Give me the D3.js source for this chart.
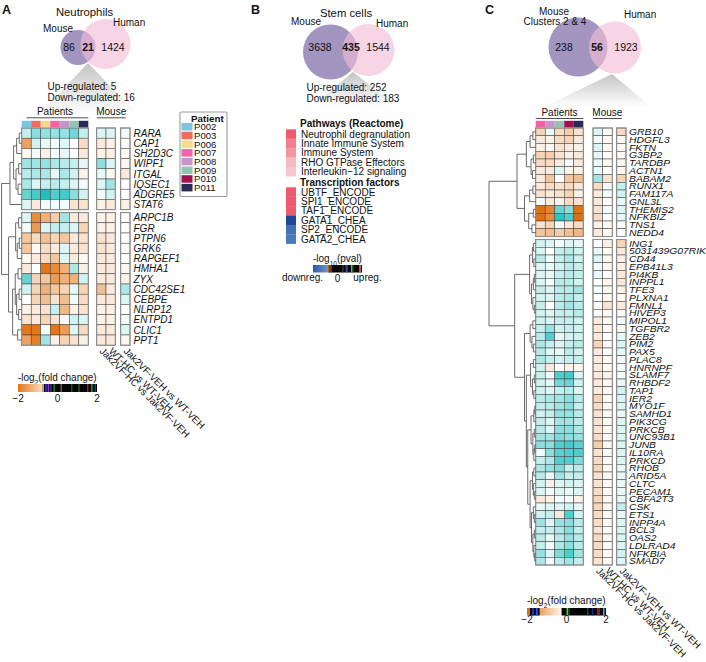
<!DOCTYPE html>
<html>
<head>
<meta charset="utf-8">
<script src="https://cdn.jsdelivr.net/npm/d3@7"></script>
<style>
  body { margin: 0; background: #fff; }
  text { font-family: "Liberation Sans", Arial, Helvetica, sans-serif; fill: #111; }
</style>
</head>
<body>
<svg id="fig" width="706" height="662"></svg>
<script>
// ---------------- data ----------------
const vennA = [86, 21, 1424];
const vennB = [3638, 435, 1544];
const vennC = [238, 56, 1923];
const regA = [5, 16];
const regB = [252, 183];

const allPatients = ["P002", "P003", "P006", "P007", "P008", "P009", "P010", "P011"];
const patientsA = ["P002", "P003", "P006", "P007", "P008", "P009", "P011"];
const patientsC = ["P007", "P008", "P009", "P010", "P011"];
const mouseCols = ["Jak2VF-HC vs Jak2VF-VEH", "WT-HC vs WT-VEH", "Jak2VF-VEH vs WT-VEH"];

const genesA1 = ["RARA", "CAP1", "SH2D3C", "WIPF1", "ITGAL", "IQSEC1", "ADGRE5", "STAT6"];
const genesA2 = ["ARPC1B", "FGR", "PTPN6", "GRK6", "RAPGEF1", "HMHA1", "ZYX", "CDC42SE1",
                 "CEBPE", "NLRP12", "ENTPD1", "CLIC1", "PPT1"];
// -log2 fold change, patients (rows follow genesA1 then genesA2)
const patFcA = [
  [0.5, 1.0, 0.9, 0.9, 0.9, 1.2, 0.5],
  [-1.3, 0.4, 0.2, 0.1, 0.3, 0.0, -0.5],
  [-0.1, 0.1, -0.2, 0.1, 0.2, 0.0, -0.3],
  [0.8, 0.8, 0.9, 0.7, 0.6, 0.5, 0.2],
  [0.6, 0.7, 0.7, 0.2, 0.7, 0.4, -0.2],
  [0.7, 0.3, 0.5, 0.6, 0.5, 0.3, 0.1],
  [1.3, 1.6, 1.9, 1.5, 1.6, 1.0, 0.4],
  [0.3, -0.3, 0.1, 0.1, 0.1, -0.4, -0.4],
  [0.3, -1.6, -1.1, -0.7, 0.8, -0.3, -0.3],
  [0.1, -1.4, 0.3, 0.5, 0.5, 0.3, -0.6],
  [-0.8, -0.5, -0.9, -0.6, -0.8, -0.3, -0.4],
  [-0.8, -0.1, -0.5, -0.3, 0.3, -0.3, -0.4],
  [-0.1, -0.3, -0.5, -0.8, 0.3, -0.3, -0.1],
  [-0.3, 0.0, -1.9, -1.6, -1.1, 0.7, -0.2],
  [1.3, -0.6, -0.8, -1.4, -1.1, -1.1, 0.4],
  [0.4, -0.6, -1.1, -0.8, -0.6, 0.2, -0.6],
  [0.0, -0.6, -0.9, -0.4, -0.9, 0.1, -0.5],
  [-0.2, -0.3, -0.4, 0.5, -1.0, -0.2, -0.4],
  [-0.4, -0.3, -0.6, -0.4, -0.1, 0.4, 0.3],
  [-1.9, -1.9, 0.1, -1.9, -1.4, 0.3, -0.5],
  [-1.3, -1.8, 0.8, -0.2, -0.6, -0.4, -0.2]
];
// mouse comparisons, same row order, columns follow mouseCols
const mouseFcA = [
  [0.3, 0.3, 0.1], [-0.3, -0.2, 0.0], [-0.2, -0.2, -0.1], [1.0, 0.3, -0.1],
  [0.2, -0.1, -0.3], [0.3, 0.8, 0.0], [0.1, 0.4, 0.0], [-0.2, -0.3, -0.2],
  [-0.2, -0.2, 0.0], [-0.2, -0.2, 0.0], [-0.4, -0.3, 0.0], [-0.4, -0.3, -0.1],
  [-0.3, -0.3, 0.0], [-0.3, -0.3, -0.1], [-0.3, -0.3, -0.2], [-0.9, -0.3, 0.7],
  [-0.3, -0.3, 0.3], [-0.2, -0.2, 0.0], [-0.2, -0.2, 0.1], [-0.3, -0.3, 0.3],
  [-0.3, -0.3, -0.1]
];
// dendrogram: [height, left, right]
const treeA = [10,
  [5.8, [4.0, [2.5, [1.2, "RARA", "CAP1"], "SH2D3C"], [2.8, [1.5, "WIPF1", "ITGAL"], [1.8, "IQSEC1", "ADGRE5"]]], "STAT6"],
  [6.5, [3.0, [1.5, "ARPC1B", "FGR"], [2.2, [1.2, "PTPN6", "GRK6"], "RAPGEF1"]],
        [4.5, [3.2, [1.8, "HMHA1", "ZYX"], [2.5, [1.3, "CDC42SE1", "CEBPE"], [1.5, "NLRP12", "ENTPD1"]]], [2.0, "CLIC1", "PPT1"]]]
];

const genesC1 = ["GRB10", "HDGFL3", "FKTN", "G3BP2", "TARDBP", "ACTN1", "BABAM2", "RUNX1",
                 "FAM117A", "GNL3L", "THEMIS2", "NFKBIZ", "TNS1", "NEDD4"];
const genesC2 = ["ING1", "5031439G07RIK", "CD44", "EPB41L3", "PI4KB", "INPPL1", "TFE3", "PLXNA1",
                 "FMNL1", "HIVEP3", "MIPOL1", "TGFBR2", "ZEB2", "PIM2", "PAX5", "PLAC8", "HNRNPF",
                 "SLAMF7", "RHBDF2", "TAP1", "IER2", "MYO1F", "SAMHD1", "PIK3CG", "PRKCB", "UNC93B1",
                 "JUNB", "IL10RA", "PRKCD", "RHOB", "ARID5A", "CLTC", "PECAM1", "CBFA2T3", "CSK",
                 "ETS1", "INPP4A", "BCL3", "OAS2", "LDLRAD4", "NFKBIA", "SMAD7"];
const patFcC = [
  [-0.6, 0.2, -0.5, -0.7, -0.4], [-0.3, -0.2, -0.5, -0.6, -0.3], [-0.2, -0.1, -0.4, -0.3, -0.2],
  [-0.6, -0.7, -0.4, -0.2, -0.3], [-0.5, -0.5, -0.3, 0.1, -0.3], [-0.3, -0.3, 0.3, -0.2, -0.2],
  [-0.3, -0.8, 0.0, -0.8, -0.9], [-0.3, -0.5, -0.4, -0.5, -0.3], [-0.4, -0.3, -0.4, -0.6, -0.2],
  [0.1, -0.3, -0.2, -0.5, -0.4], [-2.0, -1.7, 1.3, 1.0, -2.0], [-2.0, -1.6, 1.8, 1.5, -2.0],
  [-0.4, -0.6, 0.1, -0.3, -0.5], [-0.8, -0.9, -0.7, -0.9, -1.0],
  [0.4, 0.3, 0.1, 0.3, 0.2], [0.3, 0.0, 0.5, 0.6, 0.4], [0.6, 0.1, 0.5, 0.7, 0.4],
  [0.3, 0.2, 0.4, 0.6, 0.5], [0.3, 0.2, 0.5, 0.6, 0.5], [0.3, 0.1, 0.6, 0.6, 0.4],
  [0.5, 0.3, 0.6, 0.6, 0.8], [0.4, 0.3, 0.6, 0.7, 0.5], [0.5, 0.0, 0.6, 0.8, 0.6],
  [0.4, 0.3, 0.5, 0.5, 0.6], [0.4, 0.3, 0.5, 0.5, 0.4], [0.5, 0.9, 0.4, 0.5, 0.4],
  [0.6, 1.5, 0.2, 0.4, 0.4], [0.7, 0.5, 0.3, 0.5, 0.6], [0.6, 0.3, 0.2, 0.6, 0.4],
  [0.7, 0.5, 0.4, 0.5, 0.5], [0.4, -0.3, 0.0, -0.2, -0.1], [0.5, 0.1, 1.5, 1.6, 0.3],
  [0.4, 0.2, 1.2, 1.3, 0.4], [0.4, 0.3, 0.5, 0.6, 0.3], [0.6, 0.7, 0.8, 1.0, 0.6],
  [0.5, 0.6, 0.8, 1.0, 0.5], [0.4, 0.5, 0.9, 0.9, 0.6], [0.5, 0.3, 0.8, 0.8, 0.6],
  [0.6, 0.3, 1.0, 1.0, 0.7], [0.8, 0.8, 1.1, 1.0, 0.9], [1.0, 1.0, 1.5, 1.6, 1.4],
  [0.1, 1.0, 1.4, 1.5, 1.5], [0.5, 0.7, 1.5, 1.5, 1.1], [0.7, 0.9, 1.1, 0.5, 0.6],
  [0.6, 0.2, 0.8, 0.5, 0.5], [0.4, -0.2, 0.3, 0.4, 0.3], [0.3, 0.1, 0.3, 0.2, 0.3],
  [-0.3, -0.2, 0.1, 0.1, -0.2], [0.2, 0.3, 0.3, 0.4, 0.2], [0.4, 0.5, -0.3, 1.5, 0.4],
  [0.8, 0.3, 0.9, 1.0, 0.6], [0.5, 0.5, 0.7, 1.0, 0.5], [0.6, 0.2, 0.6, 0.9, 0.6],
  [0.5, 0.1, 0.7, 1.0, 0.6], [0.9, 0.3, 1.1, 1.5, 0.8], [0.7, 0.1, 0.6, 0.8, 0.5]
];
const mouseFcC = [
  [0.3, -0.1, -0.5], [0.1, -0.1, -0.1], [0.3, -0.1, -0.1], [0.2, 0.0, -0.1], [0.2, -0.1, -0.1],
  [0.2, 0.0, -0.1], [0.8, -0.4, -0.6], [-0.5, 0.1, 0.5], [-0.3, 0.1, 0.4], [-0.3, 0.0, 0.2],
  [-0.4, 0.1, 0.3], [-0.5, 0.0, 0.2], [-0.2, -0.1, 0.0], [-0.3, -0.1, 0.0],
  [0.0, -0.2, -0.6], [0.2, -0.1, -0.3], [0.3, -0.1, -0.2], [0.1, -0.1, -0.2], [0.2, 0.0, -0.3],
  [0.0, -0.1, -0.3], [0.1, -0.1, -0.2], [0.0, -0.1, -0.1], [-0.1, -0.4, -0.3], [0.1, -0.1, -0.1],
  [-0.3, -0.1, 0.1], [-0.3, -0.1, -0.1], [-0.3, 0.0, 0.2], [-0.6, -0.1, 0.3], [-0.3, 0.0, 0.2],
  [-0.3, -0.1, 0.1], [-0.3, -0.1, 0.1], [-0.3, -0.2, 0.1], [-0.3, -0.1, 0.2], [-0.3, -0.1, 0.4],
  [-0.6, -0.1, 0.3], [-0.5, -0.1, 0.3], [-0.4, -0.1, 0.2], [-0.4, -0.1, 0.3], [-0.4, -0.1, 0.3],
  [-0.5, -0.1, 0.3], [-0.7, -0.1, 0.3], [-0.4, -0.1, 0.3], [-0.5, -0.1, 0.3], [-0.6, -0.1, 0.2],
  [-0.4, -0.1, 0.2], [-0.4, -0.1, 0.2], [-0.5, -0.1, 0.2], [-0.6, -0.1, 0.2], [-0.6, -0.1, 0.5],
  [-0.5, -0.1, 0.2], [-0.5, -0.1, 0.3], [-0.4, -0.1, 0.3], [-0.5, -0.1, 0.3], [-0.5, -0.1, 0.3],
  [-0.5, -0.1, 0.4], [-0.4, -0.1, 0.3]
];
const treeC = [10,
  [4.0,
    [2.0, [1.2, [0.6, "GRB10", "HDGFL3"], "FKTN"], [1.0, [0.5, "G3BP2", "TARDBP"], [0.7, "ACTN1", "BABAM2"]]],
    [2.4, [1.3, [0.6, "RUNX1", "FAM117A"], "GNL3L"], [1.5, [0.5, "THEMIS2", "NFKBIZ"], [0.8, "TNS1", "NEDD4"]]]],
  [4.5,
    [1.3, [0.7, [0.5, "ING1", "5031439G07RIK"], [0.4, "CD44", "EPB41L3"]],
          [0.9, [0.5, [0.3, "PI4KB", "INPPL1"], "TFE3"], [0.6, "PLXNA1", [0.3, "FMNL1", "HIVEP3"]]]],
    [2.4, [1.2, [0.6, "MIPOL1", "TGFBR2"], [0.8, "ZEB2", [0.5, "PIM2", "PAX5"]]],
          [2.0, [1.1, [0.5, "PLAC8", "HNRNPF"], [0.7, [0.3, "SLAMF7", "RHBDF2"], [0.4, "TAP1", "IER2"]]],
                [1.7, [1.0, [0.4, [0.2, "MYO1F", "SAMHD1"], "PIK3CG"], [0.6, [0.3, "PRKCB", "UNC93B1"], [0.4, [0.2, "JUNB", "IL10RA"], "PRKCD"]]],
                      [1.2, [0.7, [0.4, "RHOB", "ARID5A"], [0.5, "CLTC", [0.3, "PECAM1", "CBFA2T3"]]],
                            [0.9, [0.5, "CSK", [0.3, "ETS1", "INPP4A"]], [0.6, [0.3, "BCL3", "OAS2"], [0.4, "LDLRAD4", [0.2, "NFKBIA", "SMAD7"]]]]]]]]]
];

const pathways = ["Neutrophil degranulation", "Innate Immune System", "Immune System",
                  "RHO GTPase Effectors", "Interleukin\u221212 signaling"];
const pathwayScore = [8, 6.5, 5.5, 4, 3.5];
const tfs = ["UBTF_ENCODE", "SPI1_ENCODE", "TAF1_ENCODE", "GATA1_CHEA", "SP2_ENCODE", "GATA2_CHEA"];
const tfScore = [8, 8, 8, -8, -5.5, -5];
const fcTicks = [-2, 0, 2];

// ---------------- scales / styles ----------------
const svg = d3.select("#fig");
const defs = svg.append("defs");
const fc = d3.scaleLinear().domain([-2, 0, 2]).range(["#e2700c", "#ffffff", "#16bcbc"]).clamp(true);
const enrich = d3.scaleLinear().domain([-8, -5, 0, 3.5, 8])
  .range(["#1c4896", "#4a79ba", "#ffffff", "#f7c5cd", "#ef5b6e"]);
const patientColor = d3.scaleOrdinal().domain(allPatients)
  .range(["#7cc5e2", "#f06b5c", "#f9d98c", "#f262a6", "#c694c9", "#93c5b5", "#a3114e", "#292a55"]);

const fade = defs.append("linearGradient").attr("id", "fadeGray")
  .attr("x1", 0).attr("y1", 0).attr("x2", 0).attr("y2", 1);
fade.append("stop").attr("offset", "0%").attr("stop-color", "#c4c4c4");
fade.append("stop").attr("offset", "100%").attr("stop-color", "#ffffff");

function txt(g, x, y, s, o = {}) {
  const t = g.append("text").attr("x", x).attr("y", y).text(s)
    .style("font-size", (o.size || 10) + "px");
  if (o.anchor) t.attr("text-anchor", o.anchor);
  if (o.bold) t.style("font-weight", "bold");
  if (o.italic) t.style("font-style", "italic");
  return t;
}

// ---------------- venn ----------------
function drawVenn(L, counts) {
  const g = svg.append("g");
  const [ax, ay, by, bx0, bx1] = L.tri;
  g.append("polygon").attr("points", `${ax},${ay} ${bx0},${by} ${bx1},${by}`)
    .attr("fill", "url(#fadeGray)");
  g.append("circle").attr("cx", L.mouse[0]).attr("cy", L.mouse[1]).attr("r", L.mouse[2])
    .attr("fill", "#a295c0");
  g.append("circle").attr("cx", L.human[0]).attr("cy", L.human[1]).attr("r", L.human[2])
    .attr("fill", "#f3bcd5").attr("fill-opacity", 0.62);
  counts.forEach((c, i) => txt(g, L.numX[i], L.numY, c, { anchor: "middle", size: 10.5, bold: i === 1 }));
  return g;
}

const gA = drawVenn({ mouse: [78, 47.5, 17.5], human: [105.5, 44, 25], tri: [88, 63, 113, 40, 136],
  numX: [69, 88, 113], numY: 50.5 }, vennA);
txt(gA, 2, 14, "A", { size: 12.5, bold: true });
txt(gA, 84.5, 15.5, "Neutrophils", { anchor: "middle", size: 11.3 });
txt(gA, 43, 32, "Mouse");
txt(gA, 113, 25.5, "Human");
txt(gA, 47.5, 89.5, `Up-regulated: ${regA[0]}`);
txt(gA, 47.5, 101, `Down-regulated: ${regA[1]}`);

const gB = drawVenn({ mouse: [330.5, 52, 27.5], human: [368.5, 50, 26], tri: [353, 72, 106, 312, 396],
  numX: [320, 351, 378], numY: 51 }, vennB);
txt(gB, 251, 14, "B", { size: 12.5, bold: true });
txt(gB, 346, 16.5, "Stem cells", { anchor: "middle", size: 11.3 });
txt(gB, 291, 25, "Mouse");
txt(gB, 376, 26.5, "Human");
txt(gB, 306.5, 91, `Up-regulated: ${regB[0]}`);
txt(gB, 306.5, 101.5, `Down-regulated: ${regB[1]}`);

const gC = drawVenn({ mouse: [578, 47, 29.5], human: [615, 47.5, 26], tri: [612, 74, 106, 546, 650],
  numX: [564, 597, 626], numY: 50.5 }, vennC);
txt(gC, 485, 14, "C", { size: 12.5, bold: true });
txt(gC, 554, 15, "Mouse", { anchor: "middle" });
txt(gC, 555, 24.5, "Clusters 2 & 4", { anchor: "middle" });
txt(gC, 624, 18, "Human");

// ---------------- heatmaps ----------------
function drawHeatmap(P) {
  const g = svg.append("g");
  const genes = P.groups.flat();
  const xP = d3.scaleBand().domain(P.patients).range(P.patX);
  const xM12 = d3.scaleBand().domain(mouseCols.slice(0, 2)).range(P.mouseX12);
  const xM3 = d3.scaleBand().domain(mouseCols.slice(2)).range(P.mouseX3);
  const mScale = c => (mouseCols.indexOf(c) < 2 ? xM12 : xM3);
  const ys = P.groups.map((gs, i) => d3.scaleBand().domain(gs).range([P.tops[i], P.tops[i] + gs.length * P.rowH]));
  const yS = n => ys.find(s => s.domain().includes(n));
  const yMid = n => yS(n)(n) + P.rowH / 2;

  const cells = [];
  genes.forEach((gene, i) => {
    P.patients.forEach((p, j) => cells.push({ x: xP(p), w: xP.bandwidth(), y: yS(gene)(gene), v: P.patFc[i][j] }));
    mouseCols.forEach((m, j) => cells.push({ x: mScale(m)(m), w: mScale(m).bandwidth(), y: yS(gene)(gene), v: P.mouseFc[i][j] }));
  });
  g.selectAll("rect.cell").data(cells).join("rect").attr("class", "cell")
    .attr("x", d => d.x).attr("y", d => d.y).attr("width", d => d.w).attr("height", P.rowH)
    .attr("fill", d => fc(d.v)).attr("stroke", "#3c3c3c").attr("stroke-width", 0.5);

  ys.forEach(s => {
    const [y0, y1] = s.range();
    [P.patX, P.mouseX12, P.mouseX3].forEach(([x0, x1]) =>
      g.append("rect").attr("x", x0).attr("y", y0).attr("width", x1 - x0).attr("height", y1 - y0)
        .attr("fill", "none").attr("stroke", "#8e8e8e").attr("stroke-width", 1.1));
  });

  // patient annotation bar
  g.selectAll("rect.pbar").data(P.patients).join("rect").attr("class", "pbar")
    .attr("x", p => xP(p)).attr("y", P.barY).attr("width", xP.bandwidth()).attr("height", 6.5)
    .attr("fill", p => patientColor(p));

  // headers
  const pc = (P.patX[0] + P.patX[1]) / 2;
  const mx0 = P.mouseX12[0], mx1 = P.mouseX3[0] + 5;
  txt(g, pc, P.headY, "Patients", { anchor: "middle" });
  txt(g, (mx0 + mx1) / 2, P.headY, "Mouse", { anchor: "middle" });
  g.append("line").attr("x1", P.patX[0] + P.ulInset).attr("x2", P.patX[1]).attr("y1", P.headY + 2.5).attr("y2", P.headY + 2.5)
    .attr("stroke", "#222").attr("stroke-width", 0.8);
  g.append("line").attr("x1", mx0).attr("x2", mx1).attr("y1", P.headY + 2.5).attr("y2", P.headY + 2.5)
    .attr("stroke", "#222").attr("stroke-width", 0.8);

  // gene labels
  g.selectAll("text.gene").data(genes).join("text").attr("class", "gene")
    .attr("transform", d => `translate(${P.labelX},${yMid(d)}) scale(${P.labelStretch},1)`)
    .attr("dy", "0.36em").style("font-style", "italic").style("font-size", P.labelSize + "px")
    .text(d => d);

  // rotated mouse column labels
  const bottom = ys[ys.length - 1].range()[1];
  g.selectAll("text.col").data(mouseCols).join("text").attr("class", "col")
    .attr("transform", d => `translate(${mScale(d)(d) + mScale(d).bandwidth() / 2},${bottom + 4}) rotate(45)`)
    .attr("dy", "0.35em").style("font-size", "9.8px").text(d => d);

  // dendrogram
  const xD = d3.scaleLinear().domain([0, 10]).range(P.dendroX);
  const root = d3.hierarchy(P.tree, d => (Array.isArray(d) ? d.slice(1) : null));
  root.eachAfter(n => {
    n.py = n.children ? (n.children[0].py + n.children[1].py) / 2 : yMid(n.data);
    n.px = n.children ? xD(n.data[0]) : xD(0);
  });
  const segs = [];
  root.each(n => {
    if (!n.children) return;
    const [a, b] = n.children;
    segs.push([n.px, a.py, n.px, b.py], [n.px, a.py, a.px, a.py], [n.px, b.py, b.px, b.py]);
  });
  g.selectAll("line.dend").data(segs).join("line").attr("class", "dend")
    .attr("x1", d => d[0]).attr("y1", d => d[1]).attr("x2", d => d[2]).attr("y2", d => d[3])
    .attr("stroke", "#5a5a5a").attr("stroke-width", 0.9);
  return g;
}

drawHeatmap({
  groups: [genesA1, genesA2], tops: [128, 212.6], rowH: 10.2, patients: patientsA,
  patX: [21.7, 88.3], mouseX12: [96.7, 115.3], mouseX3: [120.7, 130], patFc: patFcA, mouseFc: mouseFcA,
  labelX: 133.5, labelSize: 10, labelStretch: 1, barY: 120.8, headY: 115.3, ulInset: 5,
  tree: treeA, dendroX: [21.7, 1.5]
});

drawHeatmap({
  groups: [genesC1, genesC2], tops: [128, 239.5], rowH: 7.75, patients: patientsC,
  patX: [535.7, 583.3], mouseX12: [593, 612.3], mouseX3: [616.7, 626], patFc: patFcC, mouseFc: mouseFcC,
  labelX: 629, labelSize: 8.7, labelStretch: 1.19, barY: 120.8, headY: 116, ulInset: 0,
  tree: treeC, dendroX: [535.7, 489]
});

// ---------------- patient legend (A) ----------------
const gL = svg.append("g");
gL.append("rect").attr("x", 180).attr("y", 112).attr("width", 47).attr("height", 84.5).attr("rx", 1.5)
  .attr("fill", "#fff").attr("stroke", "#9a9a9a").attr("stroke-width", 1.1);
txt(gL, 191, 121.5, "Patient", { bold: true, size: 9.8 });
const yLeg = d3.scaleBand().domain(allPatients).range([122.4, 122.4 + 8 * 8.7]);
gL.selectAll("rect.sw").data(allPatients).join("rect").attr("class", "sw")
  .attr("x", 181.5).attr("y", d => yLeg(d) + 0.6).attr("width", 11).attr("height", 7.5)
  .attr("fill", d => patientColor(d));
gL.selectAll("text.pl").data(allPatients).join("text").attr("class", "pl")
  .attr("x", 194).attr("y", d => yLeg(d) + 4.35).attr("dy", "0.36em").style("font-size", "9.6px").text(d => d);

// ---------------- enrichment legend (B) ----------------
const gE = svg.append("g");
txt(gE, 300, 127, "Pathways (Reactome)", { bold: true });
txt(gE, 300, 185.7, "Transcription factors", { bold: true });
const yPath = d3.scaleBand().domain(pathways).range([129.3, 129.3 + pathways.length * 9.4]);
const yTf = d3.scaleBand().domain(tfs).range([187.3, 187.3 + tfs.length * 9.4]);
[[pathways, pathwayScore, yPath], [tfs, tfScore, yTf]].forEach(([names, vals, ys]) => {
  gE.selectAll(null).data(names).join("rect")
    .attr("x", 286).attr("y", d => ys(d)).attr("width", 10).attr("height", ys.bandwidth() + 0.2)
    .attr("fill", (d, i) => enrich(vals[i]));
  gE.selectAll(null).data(names).join("text")
    .attr("x", 301).attr("y", d => ys(d) + ys.bandwidth() / 2).attr("dy", "0.36em")
    .style("font-size", "10px").text(d => d);
});

// ---------------- colour bars ----------------
function logTitle(g, x, y, base, rest) {
  const t = g.append("text").attr("x", x).attr("y", y).style("font-size", "10px");
  t.append("tspan").text("-log");
  t.append("tspan").attr("baseline-shift", "sub").style("font-size", "6.5px").text(base);
  t.append("tspan").text(rest);
}
function gradRect(g, id, x0, x1, y, h, c0, c1) {
  const lg = defs.append("linearGradient").attr("id", id);
  lg.append("stop").attr("offset", "0%").attr("stop-color", c0);
  lg.append("stop").attr("offset", "100%").attr("stop-color", c1);
  g.append("rect").attr("x", x0).attr("y", y).attr("width", x1 - x0).attr("height", h).attr("fill", `url(#${id})`);
}
function stripes(g, xs, y, h, list) {
  g.selectAll(null).data(list).join("rect")
    .attr("x", d => xs(d[0])).attr("y", y).attr("width", d => d[2]).attr("height", h).attr("fill", d => d[1]);
}

// A
{
  const g = svg.append("g");
  const xs = d3.scaleLinear().domain([-2, 2]).range([18, 97]);
  logTitle(g, 18, 381, "2", "(fold change)");
  gradRect(g, "fcA", xs(-2), xs(-0.75), 384, 8, fc(-1.9), fc(-0.5));
  g.append("rect").attr("x", xs(-0.75)).attr("y", 384).attr("width", xs(2) - xs(-0.75)).attr("height", 8).attr("fill", "#050505");
  stripes(g, xs, 384, 8, [[-0.74, "#e8c400", 1], [-0.64, "#3322c8", 2], [-0.5, "#9040b0", 1.5], [-0.36, "#4b4bd0", 1],
    [-0.2, "#2f9f2f", 1.2], [0.15, "#5f5f5f", 1.5], [0.7, "#208020", 1], [1.05, "#2a5a2a", 1.5],
    [1.5, "#c02030", 1.2], [1.7, "#20a020", 1.5], [1.88, "#2040c0", 1.2]]);
  g.selectAll(null).data(fcTicks).join("text").attr("x", d => xs(d)).attr("y", 401.5).attr("text-anchor", "middle")
    .style("font-size", "10px").text(d => d < 0 ? "\u2212" + Math.abs(d) : d);
}
// B
{
  const g = svg.append("g");
  const xs = d3.scaleLinear().domain([-1, 1]).range([313, 362]);
  logTitle(g, 313, 262, "10", "(pval)");
  gradRect(g, "pvB", xs(-1), xs(-0.38), 265, 7.5, "#2a58a6", "#6f96cc");
  g.append("rect").attr("x", xs(-0.38)).attr("y", 265).attr("width", xs(1) - xs(-0.38)).attr("height", 7.5).attr("fill", "#050505");
  stripes(g, xs, 265, 7.5, [[-0.37, "#f0a000", 1], [-0.3, "#c03030", 1.5], [0.2, "#505050", 1],
    [0.33, "#3050b0", 2], [0.55, "#40d040", 1.5], [0.62, "#205020", 1], [0.88, "#d05060", 2]]);
  txt(g, 302.5, 281, "downreg.", { anchor: "middle" });
  txt(g, xs(0), 282, "0", { anchor: "middle" });
  txt(g, 367.5, 281, "upreg.", { anchor: "middle" });
}
// C
{
  const g = svg.append("g");
  const xs = d3.scaleLinear().domain([-2, 2]).range([527, 606]);
  logTitle(g, 527, 603.5, "2", "(fold change)");
  g.append("rect").attr("x", xs(-2)).attr("y", 608).attr("width", xs(-1.85) - xs(-2)).attr("height", 7.5).attr("fill", fc(-2));
  g.append("rect").attr("x", xs(-1.85)).attr("y", 608).attr("width", xs(-1.35) - xs(-1.85)).attr("height", 7.5).attr("fill", "#050505");
  gradRect(g, "fcC", xs(-1.35), xs(-0.25), 608, 7.5, fc(-1.3), fc(-0.15));
  g.append("rect").attr("x", xs(-0.25)).attr("y", 608).attr("width", xs(2) - xs(-0.25)).attr("height", 7.5).attr("fill", "#050505");
  stripes(g, xs, 608, 7.5, [[-1.75, "#1a30d0", 2], [-1.55, "#2050ff", 2], [0.0, "#50d040", 1.5], [0.1, "#208020", 1],
    [1.05, "#3050c0", 1], [1.3, "#2030a0", 1], [1.55, "#c02040", 1.5], [1.65, "#2040e0", 1], [1.85, "#40b0ff", 1.5]]);
  g.selectAll(null).data(fcTicks).join("text").attr("x", d => xs(d)).attr("y", 623).attr("text-anchor", "middle")
    .style("font-size", "10px").text(d => d < 0 ? "\u2212" + Math.abs(d) : d);
}
</script>
</body>
</html>
